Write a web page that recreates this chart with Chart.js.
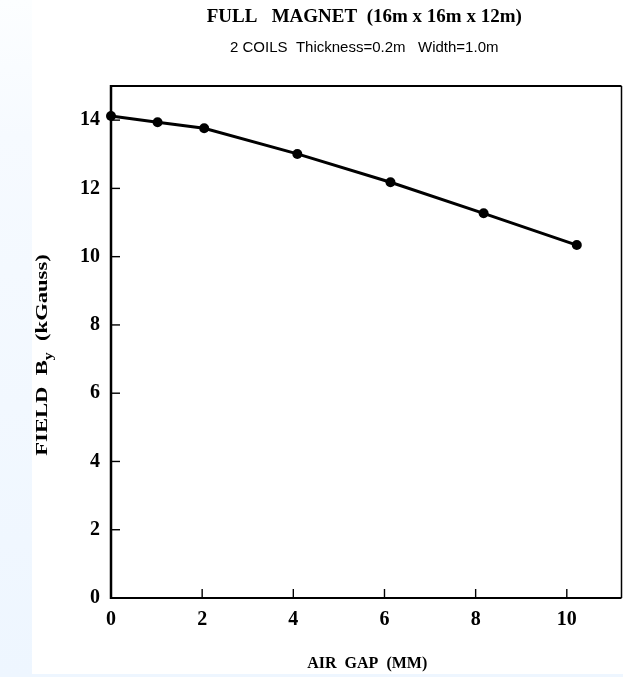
<!DOCTYPE html>
<html><head><meta charset="utf-8">
<script src="https://cdn.jsdelivr.net/npm/chart.js"></script>
<style>
html,body{margin:0;padding:0;background:#fff;width:623px;height:677px;overflow:hidden;}
#lstrip{position:absolute;left:0;top:0;width:32px;height:677px;background:linear-gradient(#fcfeff,#f6faff 20%,#eef6ff);}
#bstrip{position:absolute;left:0;top:674px;width:623px;height:3px;background:#eef6ff;}
#wrap{position:absolute;left:0;top:0;width:623px;height:677px;}
</style></head>
<body>
<div id="lstrip"></div><div id="bstrip"></div>
<div id="wrap"><canvas id="c" width="623" height="677"></canvas></div>
<script>
const airGap = [0, 1, 2, 4, 6, 8, 10];
const fieldBy = [14.12, 13.94, 13.76, 13.01, 12.18, 11.27, 10.34];
const xTickValues = [0, 2, 4, 6, 8, 10];
const yTickValues = [0, 2, 4, 6, 8, 10, 12, 14];
const titleText = 'FULL   MAGNET  (16m x 16m x 12m)';
const subtitleText = '2 COILS  Thickness=0.2m   Width=1.0m';
const xTitleText = 'AIR  GAP  (MM)';
const yTitleParts = ['FIELD  B', 'y', '  (kGauss)'];

const serif = "'Liberation Serif', 'Times New Roman', serif";
const sans = "'Liberation Sans', Arial, sans-serif";

const decor = {
  id: 'decor',
  afterDraw(chart) {
    const ctx = chart.ctx;
    const a = chart.chartArea;
    ctx.save();
    ctx.strokeStyle = '#000';
    // frame
    ctx.lineWidth = 2; ctx.beginPath(); ctx.moveTo(a.left, a.top); ctx.lineTo(a.right, a.top); ctx.stroke();
    ctx.lineWidth = 1.5; ctx.beginPath(); ctx.moveTo(a.right, a.top); ctx.lineTo(a.right, a.bottom); ctx.stroke();
    ctx.lineWidth = 2.5; ctx.beginPath(); ctx.moveTo(a.left, a.top - 1); ctx.lineTo(a.left, a.bottom + 1); ctx.stroke();
    ctx.lineWidth = 2.2; ctx.beginPath(); ctx.moveTo(a.left - 1, a.bottom); ctx.lineTo(a.right, a.bottom); ctx.stroke();
    // inward ticks
    ctx.lineWidth = 1.4;
    chart.scales.y.ticks.forEach(t => {
      const p = chart.scales.y.getPixelForValue(t.value);
      ctx.beginPath(); ctx.moveTo(a.left, p); ctx.lineTo(a.left + 9, p); ctx.stroke();
    });
    chart.scales.x.ticks.forEach(t => {
      const p = chart.scales.x.getPixelForValue(t.value);
      ctx.beginPath(); ctx.moveTo(p, a.bottom); ctx.lineTo(p, a.bottom - 9); ctx.stroke();
    });
    // titles
    const cx = (a.left + a.right) / 2;
    ctx.fillStyle = '#000';
    ctx.textAlign = 'center';
    ctx.textBaseline = 'alphabetic';
    ctx.font = 'bold 19px ' + serif;
    ctx.fillText(titleText, cx - 2, 22);
    ctx.font = '15px ' + sans;
    ctx.fillText(subtitleText, cx - 2, 52);
    ctx.font = 'bold 16px ' + serif;
    ctx.fillText(xTitleText, cx + 1, 668);
    // y title with subscript
    ctx.translate(47, 355);
    ctx.rotate(-Math.PI / 2);
    ctx.scale(1.33, 1);
    ctx.textAlign = 'left';
    const mainFont = 'bold 17px ' + serif, subFont = 'bold 12px ' + serif;
    ctx.font = mainFont; const w0 = ctx.measureText(yTitleParts[0]).width;
    ctx.font = subFont; const w1 = ctx.measureText(yTitleParts[1]).width;
    ctx.font = mainFont; const w2 = ctx.measureText(yTitleParts[2]).width;
    let x0 = -(w0 + w1 + w2) / 2;
    ctx.font = mainFont; ctx.fillText(yTitleParts[0], x0, 0);
    ctx.font = subFont; ctx.fillText(yTitleParts[1], x0 + w0, 5);
    ctx.font = mainFont; ctx.fillText(yTitleParts[2], x0 + w0 + w1, 0);
    ctx.restore();
  }
};

const noPad = s => { s.paddingLeft = 0; s.paddingRight = 0; s.paddingTop = 0; s.paddingBottom = 0; };

new Chart(document.getElementById('c'), {
  type: 'line',
  data: {
    datasets: [{
      data: airGap.map((x, i) => ({ x: x, y: fieldBy[i] })),
      xAxisID: 'xd',
      yAxisID: 'y',
      borderColor: '#000',
      backgroundColor: '#000',
      borderWidth: 3,
      pointRadius: 5,
      pointBorderWidth: 0,
      pointBackgroundColor: '#000',
      tension: 0,
      fill: false,
      clip: false
    }]
  },
  options: {
    responsive: false,
    animation: false,
    layout: { autoPadding: false, padding: { top: 86, left: 0, right: 1.5, bottom: 0 } },
    plugins: { legend: { display: false }, tooltip: { enabled: false }, title: { display: false } },
    scales: {
      x: {
        type: 'linear', position: 'bottom', min: 0, max: 11.2,
        afterBuildTicks: s => { s.ticks = xTickValues.map(v => ({ value: v })); },
        afterFit: s => { s.height = 79; noPad(s); },
        grid: { display: false, drawTicks: false, tickLength: 0 },
        border: { display: false },
        ticks: { color: '#000', font: { family: serif, size: 20, weight: 'bold' }, padding: 10, maxRotation: 0 }
      },
      xd: {
        type: 'linear', display: false, min: 0, max: 10.96
      },
      y: {
        type: 'linear', position: 'left', min: 0, max: 15,
        afterBuildTicks: s => { s.ticks = yTickValues.map(v => ({ value: v })); },
        afterFit: s => { s.width = 111; noPad(s); },
        grid: { display: false, drawTicks: false, tickLength: 0 },
        border: { display: false },
        ticks: { color: '#000', font: { family: serif, size: 20, weight: 'bold' }, padding: 11 }
      }
    }
  },
  plugins: [decor]
});
</script>
</body></html>
